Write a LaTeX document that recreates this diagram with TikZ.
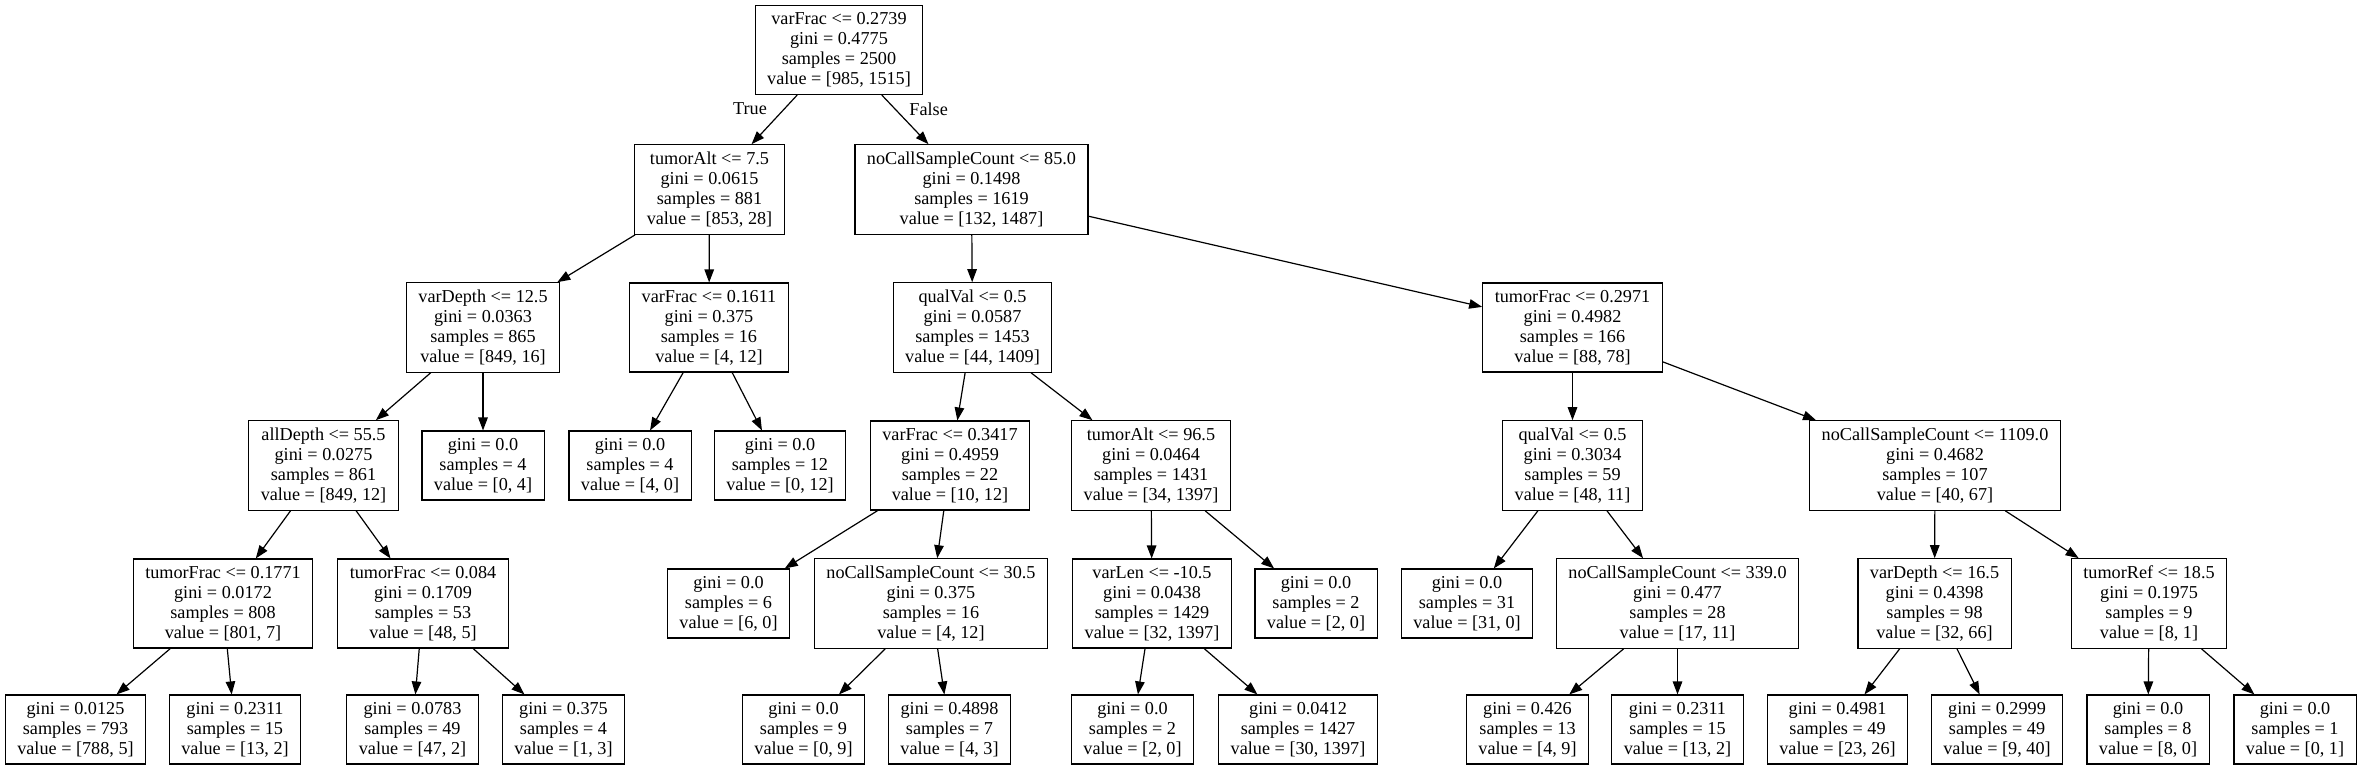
\documentclass[tikz,border=0pt]{standalone}
\usepackage{fontspec}
\setmainfont{Liberation Serif}
\usepackage{tikz}
\usetikzlibrary{arrows.meta,positioning}

\begin{document}
\begin{tikzpicture}[
    x=1bp, y=-1bp,
    every node/.style={font=\fontsize{18.2bp}{20bp}\selectfont},
    decision/.style={rectangle, draw, line width=1.2bp, align=center, inner xsep=12bp, inner ysep=7bp},
    outcome/.style={decision},
    elabel/.style={inner sep=0pt},
    arrow/.style={-{Triangle[length=13bp,width=9.5bp]}, line width=1.2bp}
]
\useasboundingbox (0,0) rectangle (2362,775);

% Level 0
\node[decision] (root) at (839,50) {varFrac <= 0.2739\\gini = 0.4775\\samples = 2500\\value = [985, 1515]};

% Level 1
\node[decision] (talt) at (709.5,189.5) {tumorAlt <= 7.5\\gini = 0.0615\\samples = 881\\value = [853, 28]};
\node[decision] (ncsc) at (971.5,189.5) {noCallSampleCount <= 85.0\\gini = 0.1498\\samples = 1619\\value = [132, 1487]};

% Level 2
\node[decision] (vdepth) at (483,327.5) {varDepth <= 12.5\\gini = 0.0363\\samples = 865\\value = [849, 16]};
\node[decision] (vfrac) at (709,327.5) {varFrac <= 0.1611\\gini = 0.375\\samples = 16\\value = [4, 12]};
\node[decision] (qval) at (972.5,327.5) {qualVal <= 0.5\\gini = 0.0587\\samples = 1453\\value = [44, 1409]};
\node[decision] (tfrac) at (1572.5,327.5) {tumorFrac <= 0.2971\\gini = 0.4982\\samples = 166\\value = [88, 78]};

% Level 3
\node[decision] (adepth) at (323.5,465.5) {allDepth <= 55.5\\gini = 0.0275\\samples = 861\\value = [849, 12]};
\node[outcome] (leafa) at (483,465.5) {gini = 0.0\\samples = 4\\value = [0, 4]};
\node[outcome] (leafb) at (630,465.5) {gini = 0.0\\samples = 4\\value = [4, 0]};
\node[outcome] (leafc) at (780,465.5) {gini = 0.0\\samples = 12\\value = [0, 12]};
\node[decision] (vfracb) at (950,465.5) {varFrac <= 0.3417\\gini = 0.4959\\samples = 22\\value = [10, 12]};
\node[decision] (taltb) at (1151,465.5) {tumorAlt <= 96.5\\gini = 0.0464\\samples = 1431\\value = [34, 1397]};
\node[decision] (qvalb) at (1572.5,465.5) {qualVal <= 0.5\\gini = 0.3034\\samples = 59\\value = [48, 11]};
\node[decision] (ncscb) at (1935,465.5) {noCallSampleCount <= 1109.0\\gini = 0.4682\\samples = 107\\value = [40, 67]};

% Level 4
\node[decision] (tfracb) at (223,603.5) {tumorFrac <= 0.1771\\gini = 0.0172\\samples = 808\\value = [801, 7]};
\node[decision] (tfracc) at (423,603.5) {tumorFrac <= 0.084\\gini = 0.1709\\samples = 53\\value = [48, 5]};
\node[outcome] (leafd) at (728.5,603.5) {gini = 0.0\\samples = 6\\value = [6, 0]};
\node[decision] (ncscc) at (931,603.5) {noCallSampleCount <= 30.5\\gini = 0.375\\samples = 16\\value = [4, 12]};
\node[decision] (vlen) at (1152,603.5) {varLen <= -10.5\\gini = 0.0438\\samples = 1429\\value = [32, 1397]};
\node[outcome] (leafe) at (1316,603.5) {gini = 0.0\\samples = 2\\value = [2, 0]};
\node[outcome] (leaff) at (1467,603.5) {gini = 0.0\\samples = 31\\value = [31, 0]};
\node[decision] (ncscd) at (1677.5,603.5) {noCallSampleCount <= 339.0\\gini = 0.477\\samples = 28\\value = [17, 11]};
\node[decision] (vdepthb) at (1934.5,603.5) {varDepth <= 16.5\\gini = 0.4398\\samples = 98\\value = [32, 66]};
\node[decision] (tref) at (2149,603.5) {tumorRef <= 18.5\\gini = 0.1975\\samples = 9\\value = [8, 1]};

% Level 5 - leaves
\node[outcome] (leafg) at (75.5,729.5) {gini = 0.0125\\samples = 793\\value = [788, 5]};
\node[outcome] (leafh) at (235,729.5) {gini = 0.2311\\samples = 15\\value = [13, 2]};
\node[outcome] (leafi) at (412.5,729.5) {gini = 0.0783\\samples = 49\\value = [47, 2]};
\node[outcome] (leafj) at (563.5,729.5) {gini = 0.375\\samples = 4\\value = [1, 3]};
\node[outcome] (leafk) at (803.5,729.5) {gini = 0.0\\samples = 9\\value = [0, 9]};
\node[outcome] (leafl) at (949.5,729.5) {gini = 0.4898\\samples = 7\\value = [4, 3]};
\node[outcome] (leafm) at (1132.5,729.5) {gini = 0.0\\samples = 2\\value = [2, 0]};
\node[outcome] (leafn) at (1298,729.5) {gini = 0.0412\\samples = 1427\\value = [30, 1397]};
\node[outcome] (leafo) at (1527.5,729.5) {gini = 0.426\\samples = 13\\value = [4, 9]};
\node[outcome] (leafp) at (1677.5,729.5) {gini = 0.2311\\samples = 15\\value = [13, 2]};
\node[outcome] (leafq) at (1837.5,729.5) {gini = 0.4981\\samples = 49\\value = [23, 26]};
\node[outcome] (leafr) at (1997,729.5) {gini = 0.2999\\samples = 49\\value = [9, 40]};
\node[outcome] (leafs) at (2148,729.5) {gini = 0.0\\samples = 8\\value = [8, 0]};
\node[outcome] (leaft) at (2295,729.5) {gini = 0.0\\samples = 1\\value = [0, 1]};

% Arrows
\draw[arrow] (root) -- node[elabel, pos=0.28, left=17bp] {True} (talt);
\draw[arrow] (root) -- node[elabel, pos=0.28, right=14bp] {False} (ncsc);
\draw[arrow] (talt) -- (vdepth);
\draw[arrow] (talt) -- (vfrac);
\draw[arrow] (ncsc) -- (qval);
\draw[arrow] (ncsc) -- (tfrac);
\draw[arrow] (vdepth) -- (adepth);
\draw[arrow] (vdepth) -- (leafa);
\draw[arrow] (vfrac) -- (leafb);
\draw[arrow] (vfrac) -- (leafc);
\draw[arrow] (qval) -- (vfracb);
\draw[arrow] (qval) -- (taltb);
\draw[arrow] (tfrac) -- (qvalb);
\draw[arrow] (tfrac) -- (ncscb);
\draw[arrow] (adepth) -- (tfracb);
\draw[arrow] (adepth) -- (tfracc);
\draw[arrow] (vfracb) -- (leafd);
\draw[arrow] (vfracb) -- (ncscc);
\draw[arrow] (taltb) -- (vlen);
\draw[arrow] (taltb) -- (leafe);
\draw[arrow] (qvalb) -- (leaff);
\draw[arrow] (qvalb) -- (ncscd);
\draw[arrow] (ncscb) -- (vdepthb);
\draw[arrow] (ncscb) -- (tref);
\draw[arrow] (tfracb) -- (leafg);
\draw[arrow] (tfracb) -- (leafh);
\draw[arrow] (tfracc) -- (leafi);
\draw[arrow] (tfracc) -- (leafj);
\draw[arrow] (ncscc) -- (leafk);
\draw[arrow] (ncscc) -- (leafl);
\draw[arrow] (vlen) -- (leafm);
\draw[arrow] (vlen) -- (leafn);
\draw[arrow] (ncscd) -- (leafo);
\draw[arrow] (ncscd) -- (leafp);
\draw[arrow] (vdepthb) -- (leafq);
\draw[arrow] (vdepthb) -- (leafr);
\draw[arrow] (tref) -- (leafs);
\draw[arrow] (tref) -- (leaft);

\end{tikzpicture}
\end{document}
